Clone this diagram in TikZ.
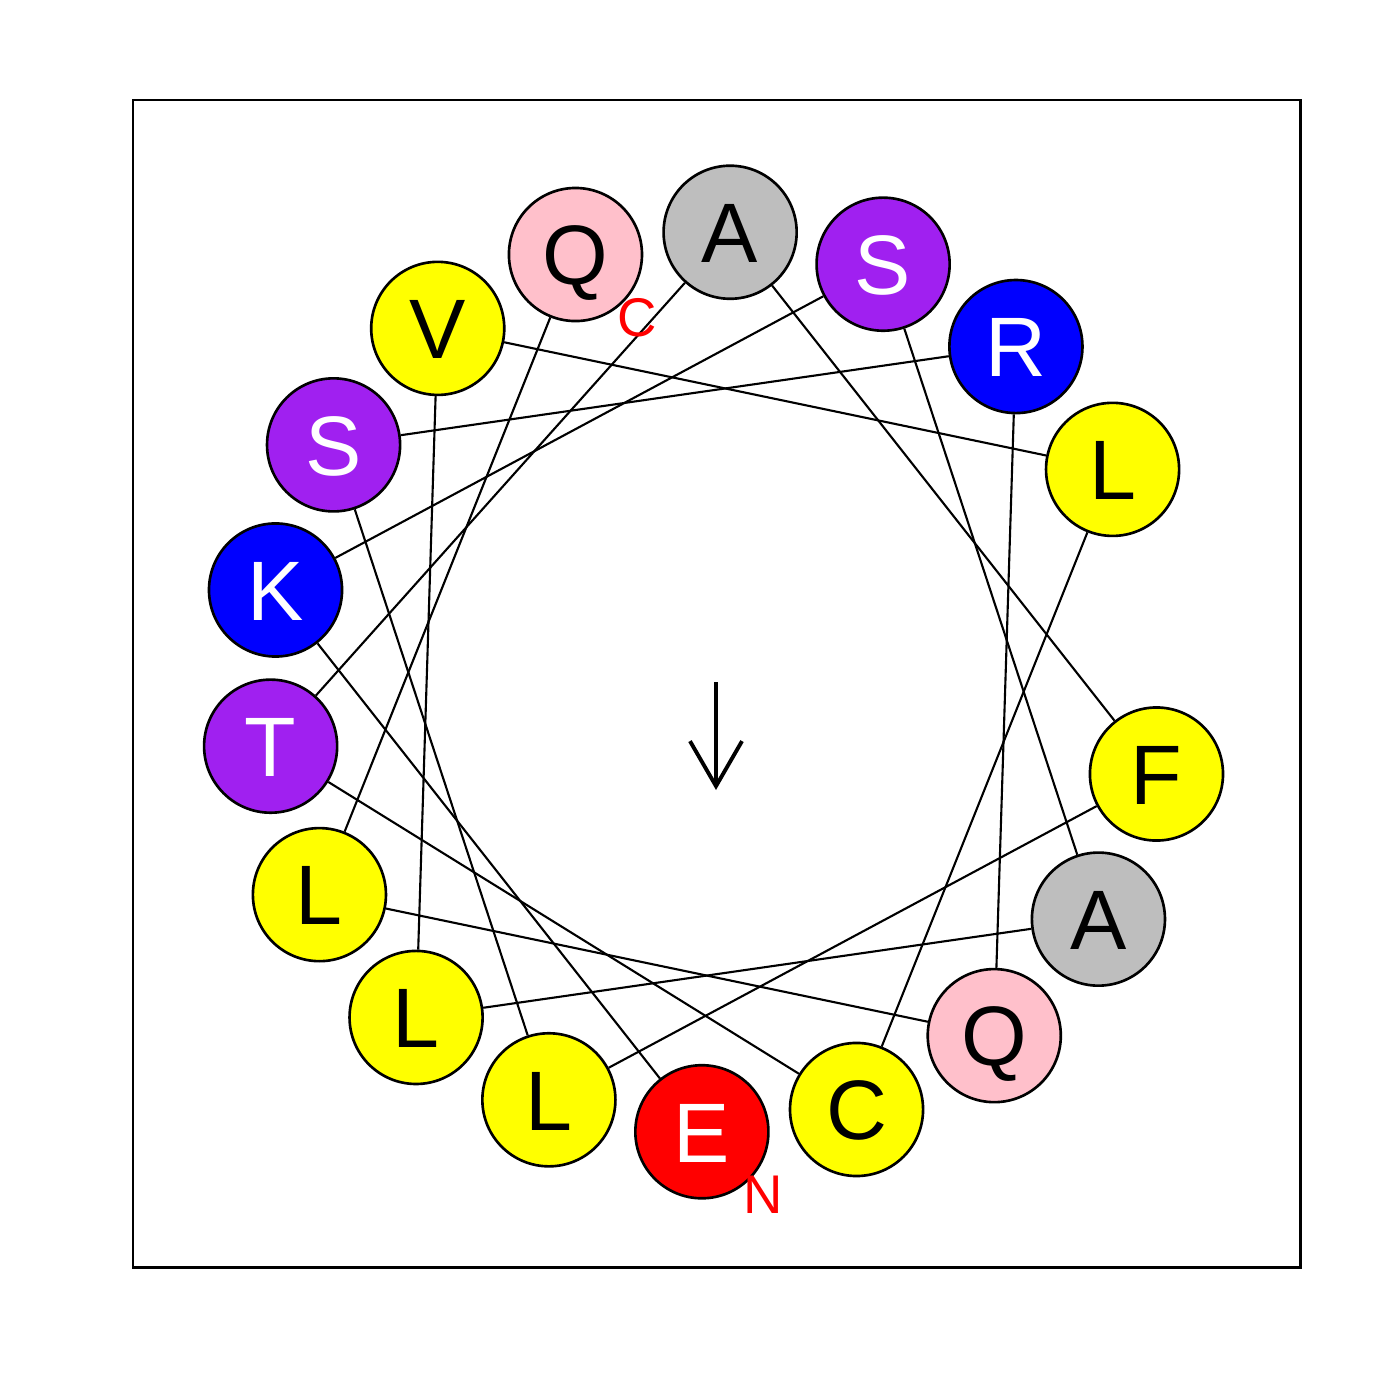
\documentclass[tikz,border=0pt]{standalone}
\usepackage{fontspec}
\setmainfont{Liberation Sans}
\usetikzlibrary{arrows.meta}
\definecolor{rpurple}{RGB}{160,32,240}
\definecolor{rpink}{RGB}{255,192,203}
\definecolor{rgray}{RGB}{190,190,190}
\definecolor{ryellow}{RGB}{255,255,0}
\definecolor{rred}{RGB}{255,0,0}
\definecolor{rblue}{RGB}{0,0,255}

\begin{document}
\begin{tikzpicture}[x=0.01cm, y=-0.01cm,
  res/.style={circle, draw, line width=0.75pt, minimum size=1.33cm, inner sep=0pt, font=\fontsize{24}{28}\selectfont, text height=17.2pt, text depth=0pt},
  term/.style={text=rred, inner sep=0pt, font=\fontsize{15.5}{18}\selectfont, text height=11.1pt, text depth=0pt},
  link/.style={line width=0.6pt}]
  \useasboundingbox (0,0) rectangle (1400,1400);
  \draw[line width=0.85pt] (133,100) rectangle (1300,1267);
  \foreach \aa/\fc/\tc [count=\i] in {E/rred/white, K/rblue/white, S/rpurple/white, A/rgray/black, L/ryellow/black, V/ryellow/black, L/ryellow/black, C/ryellow/black, T/rpurple/white, A/rgray/black, F/ryellow/black, L/ryellow/black, S/rpurple/white, R/rblue/white, Q/rpink/black, L/ryellow/black, Q/rpink/black}
    \node[res, fill=\fc, text=\tc] (r\i) at ({716+450*cos(368.2-100*\i)}, {682-450*sin(368.2-100*\i)}) {\aa};
  \foreach \i [count=\j from 2] in {1,...,16}
    \draw[link] (r\i) -- (r\j);
  \node[term] (cterm) at (637,317) {C};
  \node[term] (nterm) at (763,1194) {N};
  \coordinate (ctr) at (716,682);
  \coordinate (tip) at (716,790);
  \draw[line width=1.1pt, -{Straight Barb[length=0.45cm, width=0.52cm]}] (ctr) -- (tip);
\end{tikzpicture}
\end{document}
